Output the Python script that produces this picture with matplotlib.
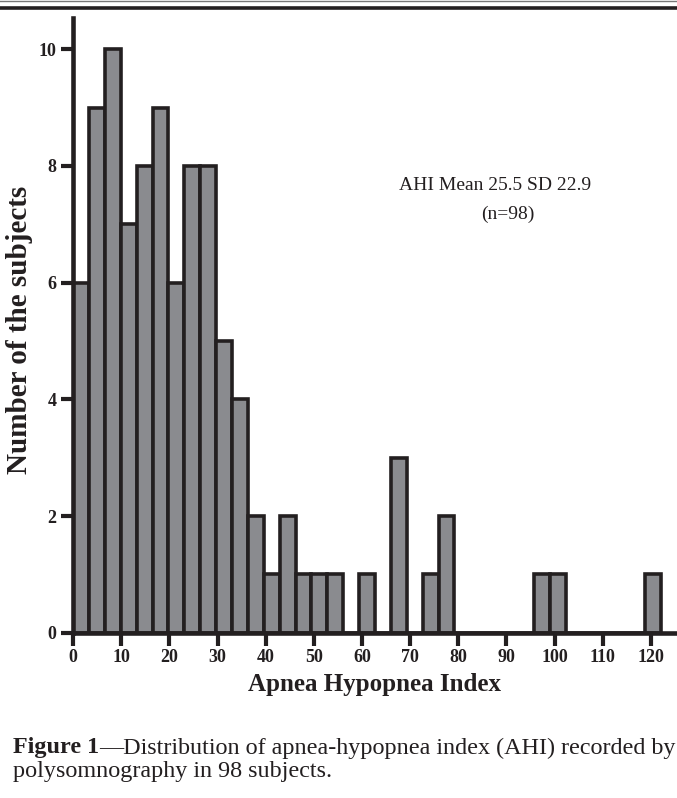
#!/usr/bin/env python3
# -*- coding: utf-8 -*-
"""Histogram of apnea-hypopnea index (AHI) in 98 subjects."""

import matplotlib
matplotlib.use("Agg")
import matplotlib.pyplot as plt
from matplotlib.lines import Line2D

# histogram bins (width in AHI units) and subject counts per bin
bin_width = 3.3
bin_counts = [6, 9, 10, 7, 8, 9, 6, 8, 8, 5,
              4, 2, 1, 2, 1, 1, 1, 0, 1, 0,
              3, 0, 1, 2, 0, 0, 0, 0, 0, 1,
              1, 0, 0, 0, 0, 0, 1]
x_ticks = list(range(0, 121, 10))
y_ticks = [0, 2, 4, 6, 8, 10]
annot_line1 = "AHI Mean 25.5 SD 22.9"
annot_line2 = "(n=98)"
caption_bold = "Figure 1"
caption_rest = "\u2014Distribution of apnea-hypopnea index (AHI) recorded by"
caption_line2 = "polysomnography in 98 subjects."

SERIF = ["Liberation Serif", "DejaVu Serif"]
INK = "#231f20"
BAR = "#8a8b8f"

plt.rcParams["font.family"] = SERIF

fig = plt.figure(figsize=(6.77, 7.98), dpi=100)
ax = fig.add_axes([0.108, 0.207, 0.889, 0.770])

lefts = [i * bin_width for i in range(len(bin_counts))]
ax.bar(lefts, bin_counts, width=bin_width, align="edge",
       color=BAR, edgecolor=INK, linewidth=2.6, zorder=2)

ax.set_xlim(0, 125)
ax.set_ylim(0, 10.53)
ax.set_xticks(x_ticks)
ax.set_yticks(y_ticks)
for lab in ax.get_xticklabels() + ax.get_yticklabels():
    lab.set_fontweight("bold")
    lab.set_fontsize(13)
ax.tick_params(axis="both", direction="out", length=9, width=3, color=INK,
               labelcolor=INK, pad=3)

for side in ("top", "right"):
    ax.spines[side].set_visible(False)
for side in ("left", "bottom"):
    ax.spines[side].set_linewidth(3.3)
    ax.spines[side].set_color(INK)
    ax.spines[side].set_zorder(3)

ax.set_xlabel("Apnea Hypopnea Index", fontsize=18, fontweight="bold",
              color=INK, labelpad=5)
ax.set_ylabel("Number of the subjects", fontsize=21, fontweight="bold",
              color=INK)
ax.yaxis.set_label_coords(-0.066, 0.4925)

fig.text(495 / 677, 1 - 185 / 798, annot_line1, ha="center", va="center",
         fontsize=14, color=INK)
fig.text(508 / 677, 1 - 214 / 798, annot_line2, ha="center", va="center",
         fontsize=14, color=INK)

# rules at the top of the page
fig.add_artist(Line2D([0, 1], [0.9982, 0.9982], color="#777777", lw=1.0))
fig.add_artist(Line2D([0, 1], [0.9900, 0.9900], color=INK, lw=2.6))

# caption with bold lead-in
fig.canvas.draw()
renderer = fig.canvas.get_renderer()
t1 = fig.text(13 / 677, 1 - 748 / 798, caption_bold, fontsize=17.4,
              fontweight="bold", color=INK, va="center", ha="left")
bb = t1.get_window_extent(renderer=renderer)
x_next = bb.x1 / fig.bbox.width
fig.text(x_next, 1 - 748 / 798, caption_rest, fontsize=17.4, color=INK,
         va="center", ha="left")
fig.text(13 / 677, 1 - 772 / 798, caption_line2, fontsize=17.4, color=INK,
         va="center", ha="left")

fig.savefig("out.png", dpi=100)
